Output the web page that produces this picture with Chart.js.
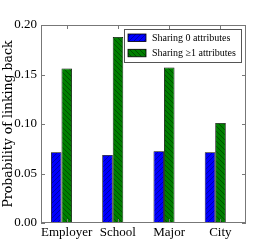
<!DOCTYPE html>
<html>
<head>
<meta charset="utf-8">
<script src="https://cdn.jsdelivr.net/npm/chart.js@4.4.0/dist/chart.umd.min.js"></script>
<style>
  html, body { margin: 0; padding: 0; background: #fff; }
  canvas { display: block; }
</style>
</head>
<body>
<canvas id="linkChart" width="274" height="249"></canvas>
<script>
// data
const categories = ['Employer', 'School', 'Major', 'City'];
const sharingZero = [0.0715, 0.0688, 0.0725, 0.0715];
const sharingOne = [0.156, 0.188, 0.157, 0.101];
const seriesLabels = ['Sharing 0 attributes', 'Sharing \u22651 attributes'];
const yTicks = [0, 0.05, 0.10, 0.15, 0.20];
const labelShift = 0.1; // tick labels sit a little right of the bar groups

// hatched fills like matplotlib's '/' and '\'
function makeHatch(bg, fg, forward) {
    const p = document.createElement('canvas');
    p.width = 5; p.height = 5;
    const g = p.getContext('2d');
    g.fillStyle = bg;
    g.fillRect(0, 0, 5, 5);
    g.strokeStyle = fg;
    g.lineWidth = 1;
    g.beginPath();
    for (let k = -5; k <= 10; k += 5) {
        if (forward) { g.moveTo(k, 5); g.lineTo(k + 5, 0); }
        else { g.moveTo(k, 0); g.lineTo(k + 5, 5); }
    }
    g.stroke();
    return g.createPattern(p, 'repeat');
}
const blueHatch = makeHatch('#0000ff', '#0000a8', true);
const greenHatch = makeHatch('#008000', '#004d00', false);

const serif = 'Liberation Serif';

// frame, inward ticks and the in-plot legend
const framePlugin = {
    id: 'frame',
    afterDatasetsDraw(chart) {
        const ctx = chart.ctx;
        const a = chart.chartArea;
        const xs = chart.scales.x, ys = chart.scales.y;
        ctx.save();
        ctx.strokeStyle = '#777';
        ctx.lineWidth = 1;
        ctx.strokeRect(a.left + 0.5, a.top + 0.5, a.right - a.left - 1, a.bottom - a.top - 1);
        ctx.beginPath();
        yTicks.forEach(v => {
            const y = Math.round(ys.getPixelForValue(v)) + 0.5;
            ctx.moveTo(a.left, y); ctx.lineTo(a.left + 4, y);
            ctx.moveTo(a.right, y); ctx.lineTo(a.right - 4, y);
        });
        categories.forEach((c, i) => {
            const x = Math.round(xs.getPixelForValue(i + labelShift)) + 0.5;
            ctx.moveTo(x, a.top); ctx.lineTo(x, a.top + 4);
            ctx.moveTo(x, a.bottom); ctx.lineTo(x, a.bottom - 4);
        });
        ctx.stroke();

        // legend box
        const bx = 124.5, by = 29.5, bw = 117, bh = 33;
        ctx.fillStyle = '#fff';
        ctx.fillRect(bx, by, bw, bh);
        ctx.strokeStyle = '#555';
        ctx.strokeRect(bx, by, bw, bh);
        const fills = [blueHatch, greenHatch];
        ctx.font = '10px "Liberation Serif"';
        ctx.textBaseline = 'middle';
        seriesLabels.forEach((lab, i) => {
            const sy = 34 + i * 15.3;
            ctx.fillStyle = fills[i];
            ctx.fillRect(128, sy, 18, 7.5);
            ctx.strokeStyle = '#000';
            ctx.lineWidth = 0.8;
            ctx.strokeRect(128, sy, 18, 7.5);
            ctx.fillStyle = '#000';
            ctx.fillText(lab, 152, sy + 4.2);
        });
        ctx.restore();
    }
};

const ctx = document.getElementById('linkChart').getContext('2d');
const linkChart = new Chart(ctx, {
    type: 'bar',
    data: {
        datasets: [
            {
                label: seriesLabels[0],
                data: categories.map((c, i) => ({ x: i, y: sharingZero[i] })),
                backgroundColor: blueHatch,
                borderColor: '#000',
                borderWidth: 0.8
            },
            {
                label: seriesLabels[1],
                data: categories.map((c, i) => ({ x: i, y: sharingOne[i] })),
                backgroundColor: greenHatch,
                borderColor: '#000',
                borderWidth: 0.8
            }
        ]
    },
    options: {
        responsive: false,
        animation: false,
        barPercentage: 1,
        categoryPercentage: 0.41,
        layout: { padding: { top: 25, right: 28, left: 0, bottom: 0 } },
        scales: {
            x: {
                type: 'linear',
                min: -0.4,
                max: 3.6,
                offset: false,
                grid: { display: false, drawTicks: false },
                border: { display: false },
                afterBuildTicks: function (scale) {
                    scale.ticks = categories.map((c, i) => ({ value: i + labelShift }));
                },
                afterFit: function (scale) { scale.height = 26; },
                ticks: {
                    padding: 2,
                    maxRotation: 0,
                    autoSkip: false,
                    color: '#000',
                    font: { family: serif, size: 13 },
                    callback: function (value) {
                        return categories[Math.round(value - labelShift)];
                    }
                }
            },
            y: {
                min: 0,
                max: 0.2,
                grid: { display: false, drawTicks: false },
                border: { display: false },
                afterBuildTicks: function (scale) {
                    scale.ticks = yTicks.map(v => ({ value: v }));
                },
                afterFit: function (scale) { scale.width = 41; },
                ticks: {
                    padding: 4,
                    color: '#000',
                    font: { family: serif, size: 13 },
                    callback: function (value) { return value.toFixed(2); }
                },
                title: {
                    display: true,
                    text: 'Probability of linking back',
                    color: '#000',
                    font: { family: 'DejaVu Serif', size: 12.5 },
                    padding: { top: 1, bottom: 0 }
                }
            }
        },
        plugins: {
            legend: { display: false },
            tooltip: { enabled: false }
        }
    },
    plugins: [framePlugin]
});
</script>
</body>
</html>
